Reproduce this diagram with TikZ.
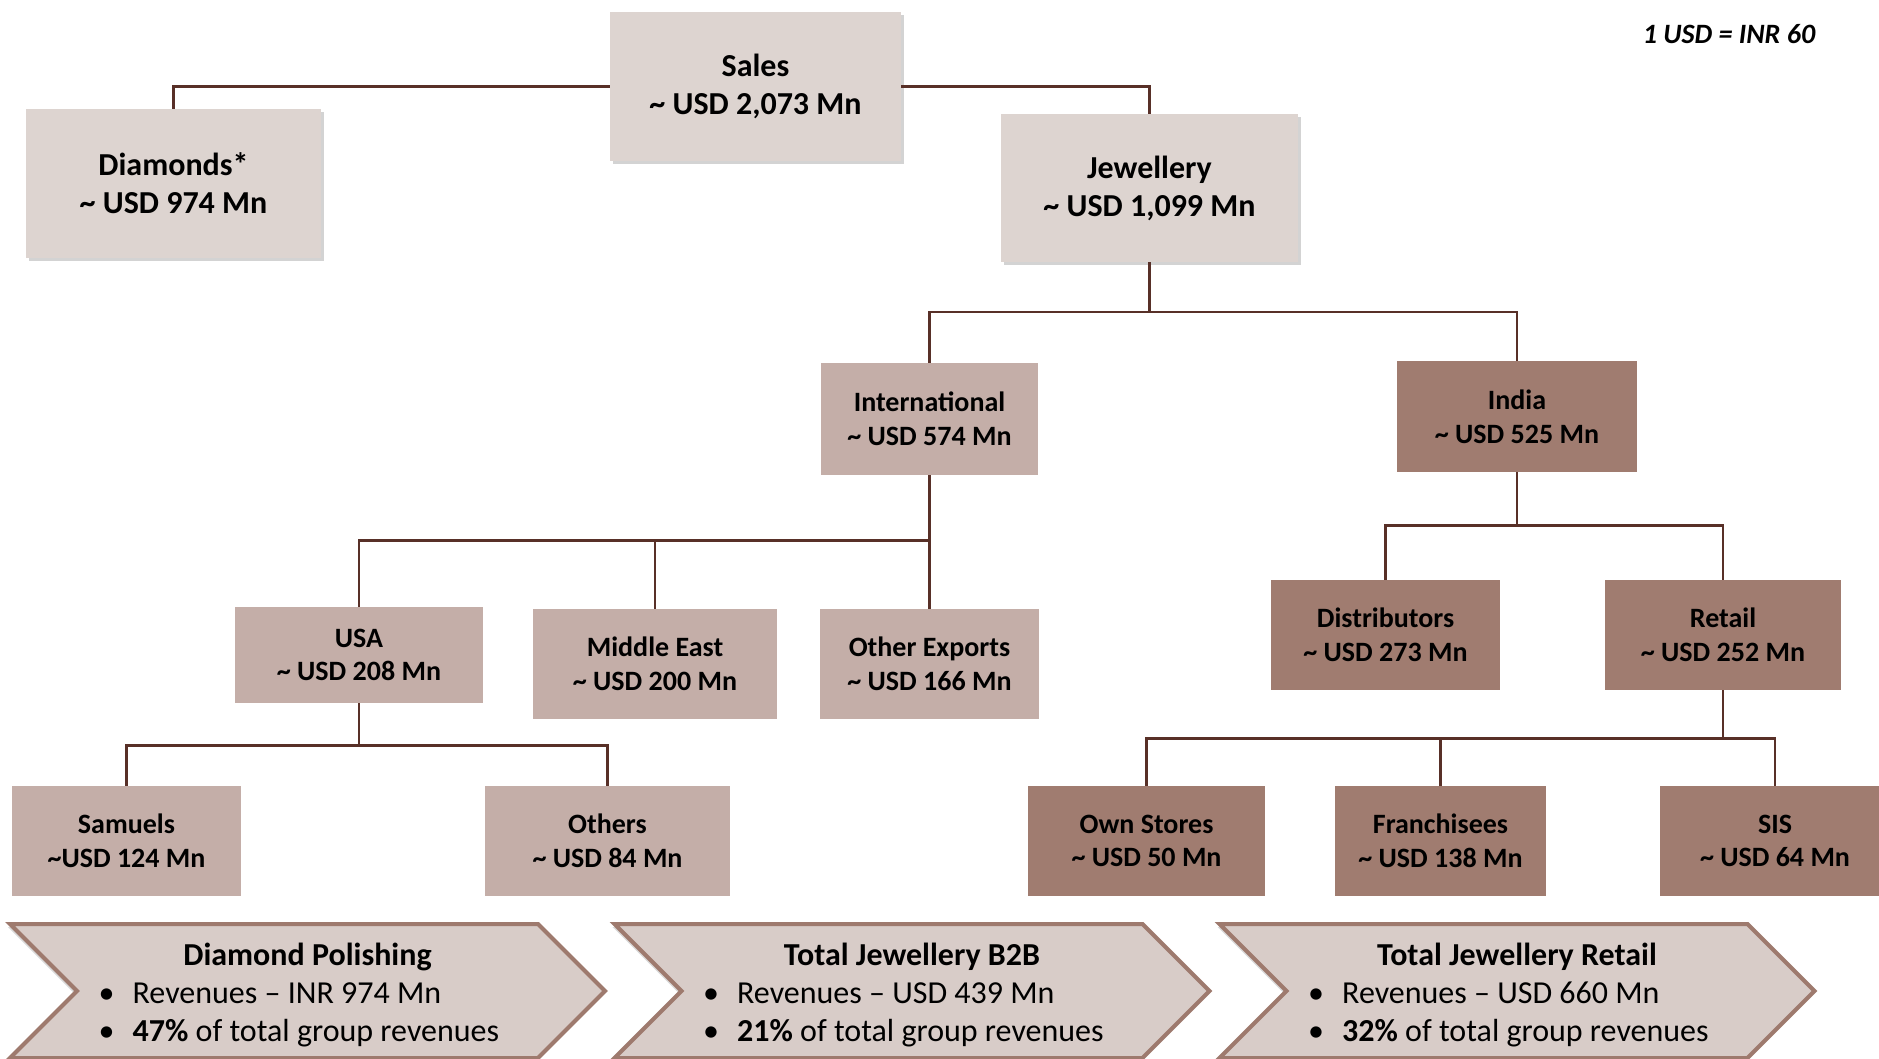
\documentclass[tikz,border=0pt]{standalone}
\usepackage{fontspec}
\setmainfont{Carlito}
\usepackage{tikz}
\usetikzlibrary{positioning, shapes.symbols, shadows, calc}
\definecolor{wire}{RGB}{88,48,40}
\definecolor{pale}{RGB}{221,212,208}
\definecolor{mid}{RGB}{196,174,168}
\definecolor{deep}{RGB}{160,124,112}
\definecolor{rim}{RGB}{158,122,110}
\definecolor{band}{RGB}{216,204,200}
\newcommand{\apx}{\textasciitilde}
\newcommand{\bul}{\makebox[18pt][l]{\hspace{1pt}\textbullet}}
\newcommand{\headline}[1]{\multicolumn{1}{@{}c@{}}{\hspace{9.6pt}\textbf{#1}}}
\tikzset{
  box/.style      ={rectangle, inner sep=3pt, align=center, font=\fontsize{14}{16.8}\selectfont\bfseries},
  topbox/.style   ={box, fill=pale, font=\fontsize{16}{19}\selectfont\bfseries,
                    drop shadow={shadow xshift=1.5pt, shadow yshift=-1.5pt, opacity=0.35}},
  midbox/.style   ={box, fill=mid},
  deepbox/.style  ={box, fill=deep},
  link/.style     ={draw=wire, line width=1.3pt},
  chevron/.style  ={signal, signal from=west, signal to=east, fill=band, draw=rim, line width=2pt,
                    inner sep=2pt, minimum width=297.5pt, minimum height=67pt,
                    font=\fontsize{16}{19}\selectfont,
                    drop shadow={shadow xshift=-1pt, shadow yshift=-1.5pt, opacity=0.3}},
  ratelabel/.style={font=\fontsize{14}{16}\selectfont\bfseries\itshape},
}

\begin{document}
\begin{tikzpicture}[x=0.5pt, y=-0.5pt]
\useasboundingbox (0,0) rectangle (1879,1059);

\node[ratelabel] (rate) at (1729, 34) {1 USD = INR 60};

\node[topbox, minimum width=145.5pt, minimum height=74.5pt] (sales) at (755.5, 86.5)
  {Sales\\\apx{} USD 2,073 Mn};
\node[topbox, minimum width=147.5pt, minimum height=74.5pt] (diamonds) at (173.5, 183.5)
  {Diamonds*\\\apx{} USD 974 Mn};
\node[topbox, minimum width=148.5pt, minimum height=74pt] (jewellery) at (1149.5, 188)
  {Jewellery\\\apx{} USD 1,099 Mn};

\node[midbox, minimum width=108.5pt, minimum height=56pt] (intl) at (929.5, 419)
  {International\\\apx{} USD 574 Mn};
\node[deepbox, minimum width=120pt, minimum height=55.5pt] (india) at (1517, 416.5)
  {India\\\apx{} USD 525 Mn};

\node[midbox, minimum width=124pt, minimum height=48pt] (usa) at (359, 655)
  {USA\\\apx{} USD 208 Mn};
\node[midbox, minimum width=122pt, minimum height=55pt] (mideast) at (655, 664)
  {Middle East\\\apx{} USD 200 Mn};
\node[midbox, minimum width=109.5pt, minimum height=55pt] (exports) at (929.5, 664)
  {Other Exports\\\apx{} USD 166 Mn};
\node[midbox, minimum width=114.5pt, minimum height=55pt] (samuels) at (126.5, 841)
  {Samuels\\\apx USD 124 Mn};
\node[midbox, minimum width=122.5pt, minimum height=55pt] (others) at (607.5, 841)
  {Others\\\apx{} USD 84 Mn};

\node[deepbox, minimum width=114.5pt, minimum height=55pt] (distrib) at (1385.5, 635)
  {Distributors\\\apx{} USD 273 Mn};
\node[deepbox, minimum width=118pt, minimum height=55pt] (retail) at (1723, 635)
  {Retail\\\apx{} USD 252 Mn};
\node[deepbox, minimum width=118.5pt, minimum height=55pt] (ownstores) at (1146.5, 841)
  {Own Stores\\\apx{} USD 50 Mn};
\node[deepbox, minimum width=105.5pt, minimum height=55pt] (franchise) at (1440.5, 841)
  {Franchisees\\\apx{} USD 138 Mn};
\node[deepbox, minimum width=115pt, minimum height=55pt] (sis) at (1775, 841)
  {SIS\\\apx{} USD 64 Mn};

\node[chevron] (polish) at (307.5, 991)
  {\raisebox{-2.5pt}[\height][\depth]{\begin{tabular}{@{}l@{}}\headline{Diamond Polishing}\\
   \bul Revenues -- INR 974 Mn\\ \bul\textbf{47\%} of total group revenues\end{tabular}}\rule{9.6pt}{0pt}};
\node[chevron] (btob) at (912, 991)
  {\raisebox{-2.5pt}[\height][\depth]{\begin{tabular}{@{}l@{}}\headline{Total Jewellery B2B}\\
   \bul Revenues -- USD 439 Mn\\ \bul\textbf{21\%} of total group revenues\end{tabular}}\rule{9.6pt}{0pt}};
\node[chevron] (shops) at (1517, 991)
  {\raisebox{-2.5pt}[\height][\depth]{\begin{tabular}{@{}l@{}}\headline{Total Jewellery Retail}\\
   \bul Revenues -- USD 660 Mn\\ \bul\textbf{32\%} of total group revenues\end{tabular}}\rule{9.6pt}{0pt}};

\draw[link] (sales.west) -| (diamonds.north);
\draw[link] (sales.east) -| (jewellery.north);
\draw[link] (jewellery.south) -- ++(0,49.5) coordinate (jbus);
\draw[link] (intl.north) |- (jbus) -| (india.north);

\draw[link] (intl.south) -- ++(0,65) coordinate (ibus);
\draw[link] (usa.north) |- (ibus) -- (exports.north);
\draw[link] (mideast.north) -- (mideast.north |- ibus);
\draw[link] (usa.south) -- ++(0,42) coordinate (ubus);
\draw[link] (samuels.north) |- (ubus) -| (others.north);

\draw[link] (india.south) -- ++(0,53) coordinate (nbus);
\draw[link] (distrib.north) |- (nbus) -| (retail.north);
\draw[link] (retail.south) -- ++(0,48) coordinate (rbus);
\draw[link] (ownstores.north) |- (rbus) -| (sis.north);
\draw[link] (franchise.north) -- (franchise.north |- rbus);
\end{tikzpicture}
\end{document}
